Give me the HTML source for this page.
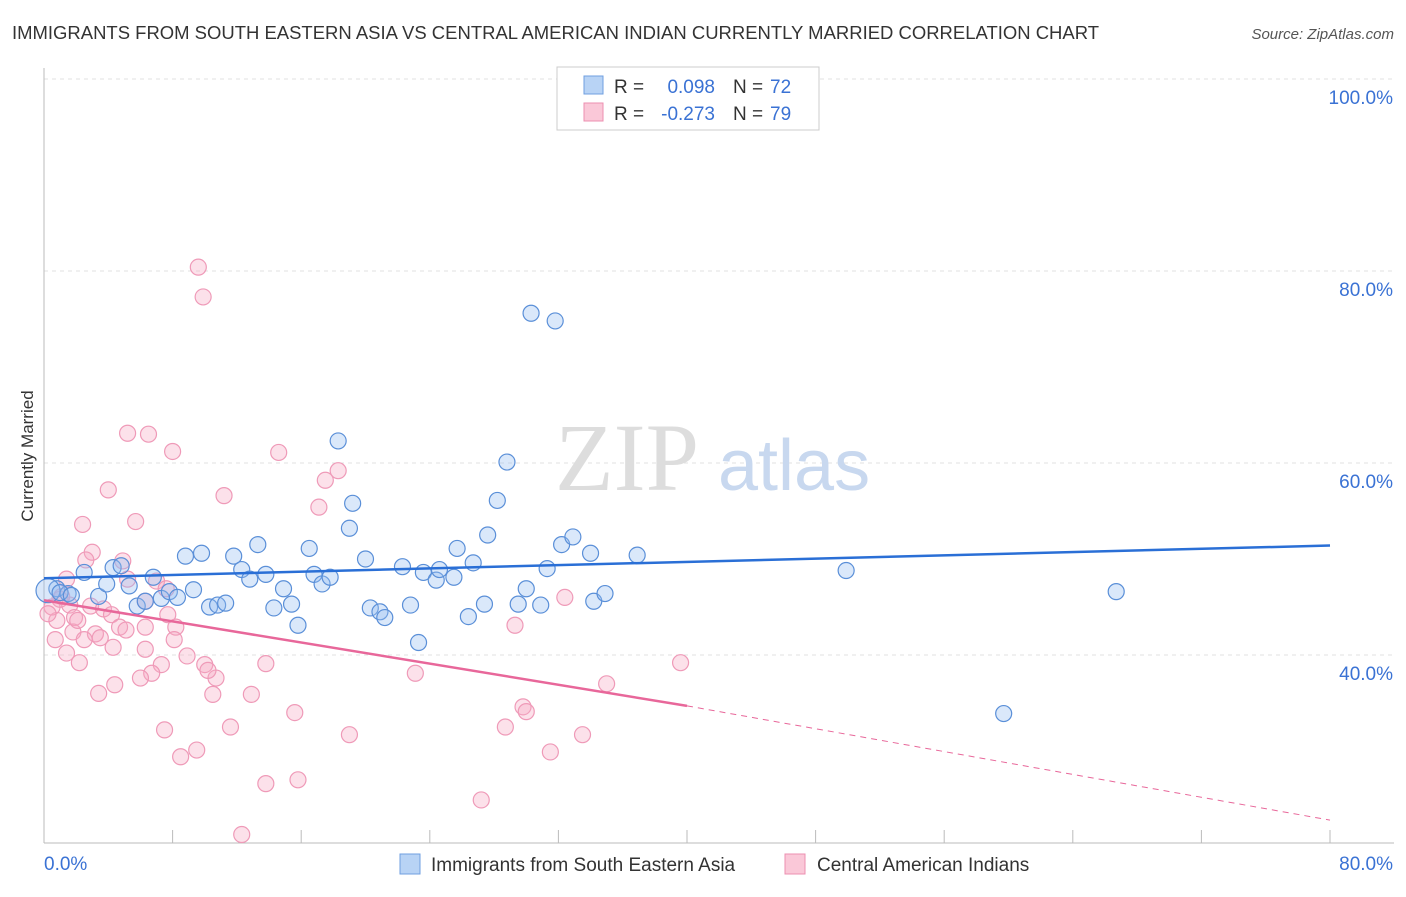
<!DOCTYPE html>
<html><head><meta charset="utf-8"><style>
body{margin:0;background:#fff;font-family:"Liberation Sans",sans-serif}
</style></head><body>
<svg width="1406" height="892" xmlns="http://www.w3.org/2000/svg" id="svg" font-family="Liberation Sans, sans-serif">
<text x="12" y="39" font-size="18" fill="#333" textLength="1087" lengthAdjust="spacingAndGlyphs">IMMIGRANTS FROM SOUTH EASTERN ASIA VS CENTRAL AMERICAN INDIAN CURRENTLY MARRIED CORRELATION CHART</text>
<text x="1394" y="39" font-size="15" fill="#555" text-anchor="end" font-style="italic">Source: ZipAtlas.com</text>
<text transform="translate(33,456) rotate(-90)" font-size="17" fill="#333" text-anchor="middle">Currently Married</text>
<g id="grid"></g>
<text x="555" y="490" font-size="96" fill="#ddd" font-family="Liberation Serif, serif">ZIP</text>
<text x="718" y="490" font-size="72" fill="#c8d8ef">atlas</text>
<g id="pts"></g>
<g id="lines"></g>
<g>
<rect x="557" y="67" width="262" height="63" fill="#fff" stroke="#ccc"/>
<rect x="584" y="76" width="19" height="18" fill="#b8d3f5" stroke="#6f9fe0"/>
<rect x="584" y="103" width="19" height="18" fill="#fac8d8" stroke="#ec8fb0"/>
<text x="614" y="93" font-size="19" fill="#333">R =</text>
<text x="715" y="93" font-size="19" fill="#3a72d4" text-anchor="end">0.098</text>
<text x="733" y="93" font-size="19" fill="#333">N =</text>
<text x="770" y="93" font-size="19" fill="#3a72d4">72</text>
<text x="614" y="120" font-size="19" fill="#333">R =</text>
<text x="715" y="120" font-size="19" fill="#3a72d4" text-anchor="end">-0.273</text>
<text x="733" y="120" font-size="19" fill="#333">N =</text>
<text x="770" y="120" font-size="19" fill="#3a72d4">79</text>
</g>
<g>
<rect x="400" y="854" width="20" height="20" fill="#b8d3f5" stroke="#6f9fe0"/>
<text x="431" y="871" font-size="19" fill="#333">Immigrants from South Eastern Asia</text>
<rect x="785" y="854" width="20" height="20" fill="#fac8d8" stroke="#ec8fb0"/>
<text x="817" y="871" font-size="19" fill="#333">Central American Indians</text>
</g>
</svg>
<script>
const yTicks=[40,60,80,100];
const xTickLabels=["0.0%","80.0%"];
const blueX=[0.8,1.5,2.5,3.4,3.9,4.3,4.8,5.3,5.8,6.3,6.8,7.3,7.8,8.3,8.8,9.3,9.8,10.3,10.8,11.3,11.8,12.3,12.8,13.3,13.8,14.3,14.9,15.4,15.8,16.5,16.8,17.3,17.8,18.3,19.0,19.2,20.0,20.3,20.9,21.2,22.3,22.8,23.3,23.6,24.4,24.6,25.5,25.7,26.4,26.7,27.4,27.6,28.2,28.8,29.5,30.0,30.3,30.9,31.3,31.8,32.2,32.9,34.0,34.2,34.9,36.9,49.9,59.7,66.7,0.25,1.0,1.7];
const blueY=[46.9,46.4,48.6,46.1,47.4,49.1,49.3,47.2,45.1,45.6,48.1,45.9,46.6,46.0,50.3,46.8,50.6,45.0,45.2,45.4,50.3,48.9,47.9,51.5,48.4,44.9,46.9,45.3,43.1,51.1,48.4,47.4,48.1,62.3,53.2,55.8,50.0,44.9,44.5,43.9,49.2,45.2,41.3,48.6,47.8,48.9,48.1,51.1,44.0,49.6,45.3,52.5,56.1,60.1,45.3,46.9,75.6,45.2,49.0,74.8,51.5,52.3,50.6,45.6,46.4,50.4,48.8,33.9,46.6,46.7,46.5,46.2];
const pinkX=[9.6,9.9,5.2,6.5,8.0,14.6,4.0,11.2,5.7,2.4,18.3,17.5,17.1,3.0,2.6,4.9,5.2,7.0,7.6,0.99,1.6,2.9,3.7,4.2,4.7,5.1,6.3,7.7,8.2,0.8,1.9,1.8,3.2,3.5,0.7,1.4,2.2,6.3,7.3,8.9,10.0,10.7,10.5,13.8,6.7,6.0,4.4,3.4,12.9,7.5,9.5,8.5,11.6,15.6,13.8,15.8,12.3,19.0,23.1,27.2,28.7,29.8,30.0,31.5,33.5,32.4,29.3,35.0,39.6,0.5,0.25,1.1,2.1,2.5,4.3,8.1,10.2,1.4,6.3];
const pinkY=[80.4,77.3,63.1,63.0,61.2,61.1,57.2,56.6,53.9,53.6,59.2,58.2,55.4,50.7,49.9,49.8,47.9,47.7,46.9,45.8,45.2,45.1,44.8,44.2,42.9,42.6,42.9,44.2,42.9,43.6,43.9,42.4,42.2,41.8,41.6,40.2,39.2,40.6,39.0,39.9,39.0,37.6,35.9,39.1,38.1,37.6,36.9,36.0,35.9,32.2,30.1,29.4,32.5,34.0,26.6,27.0,21.3,31.7,38.1,24.9,32.5,34.6,34.1,29.9,31.7,46.0,43.1,37.0,39.2,45.0,44.3,46.1,43.6,41.6,40.8,41.6,38.4,47.9,45.6];
const X=v=>44+v*16.075, Y=v=>1039-v*9.6;
const NS="http://www.w3.org/2000/svg";
function mk(t,a,p){const e=document.createElementNS(NS,t);for(const k in a)e.setAttribute(k,a[k]);p.appendChild(e);return e;}
const g=document.getElementById('grid');
yTicks.forEach(t=>{const l=mk('line',{x1:44,x2:1394,y1:Y(t),y2:Y(t),stroke:'#e2e2e2','stroke-dasharray':'4,4'},g);


const tx=mk('text',{x:1393,y:Y(t)+25,'font-size':19,fill:'#3a72d4','text-anchor':'end'},g);tx.textContent=t.toFixed(1)+'%';

});
mk('line',{x1:44,x2:44,y1:68,y2:843,stroke:'#bbb'},g);
mk('line',{x1:44,x2:1394,y1:843,y2:843,stroke:'#bbb'},g);
for(let i=0;i<=10;i++){mk('line',{x1:X(i*8),x2:X(i*8),y1:830,y2:843,stroke:'#bbb'},g);}
const t0=mk('text',{x:44,y:870,'font-size':19,fill:'#3a72d4'},g);t0.textContent=xTickLabels[0];


const t1=mk('text',{x:1393,y:870,'font-size':19,fill:'#3a72d4','text-anchor':'end'},g);t1.textContent=xTickLabels[1];


const P=document.getElementById('pts');
pinkX.forEach((x,i)=>{const c=mk('circle',{cx:X(x),cy:Y(pinkY[i]),r:8,fill:'rgba(246,170,196,0.35)',stroke:'#ef9ab8','stroke-width':1.2},P);

});
blueX.forEach((x,i)=>{const c=mk('circle',{cx:X(x),cy:Y(blueY[i]),r:i==69?12:8,fill:'rgba(150,190,240,0.35)',stroke:'#5a8fd8','stroke-width':1.2},P);

});
const L=document.getElementById('lines');
const bl=mk('line',{x1:X(0),y1:Y(48.0),x2:X(80),y2:Y(51.4),stroke:'#2a6fd6','stroke-width':2.5},L);


const pl=mk('line',{x1:X(0),y1:Y(45.7),x2:X(40),y2:Y(34.7),stroke:'#e8679a','stroke-width':2.5},L);


const pd=mk('line',{x1:X(40),y1:Y(34.7),x2:X(80),y2:Y(22.8),stroke:'#e8679a','stroke-width':1,'stroke-dasharray':'6,5'},L);


</script>
</body></html>
